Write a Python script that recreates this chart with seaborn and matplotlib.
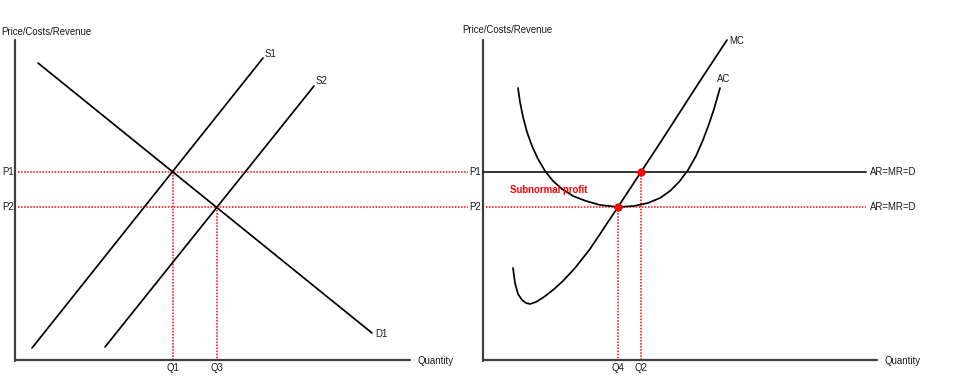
import matplotlib
matplotlib.use("Agg")
import matplotlib.pyplot as plt
import seaborn as sns
import numpy as np

sns.set_theme(style="white")
plt.rcParams['font.family'] = ['Liberation Sans', 'DejaVu Sans']

# ---- data (pixel-space coordinates) ----
# Left panel: demand and supply lines
D1_x = [38, 372]; D1_y = [63, 333]
S1_x = [32, 263]; S1_y = [348, 58]
S2_x = [105, 314]; S2_y = [347, 86]
# price levels and quantities
P_levels = {"P1": 172, "P2": 207}
Q_left = {"Q1": (173, 172), "Q3": (217, 207)}
Q_right = {"Q4": (618, 207), "Q2": (641, 172)}
# Right panel: MC and AC curves
MC_x = [513, 515, 518, 522, 526, 530, 536, 544, 553, 563, 575, 590, 604, 618, 641, 660, 680, 700, 727]
MC_y = [268, 283, 294, 300, 303, 304, 302, 297, 290, 281, 268, 249, 228, 207, 172, 143, 112, 81, 40]
AC_x = [518, 520, 523, 527, 532, 538, 545, 553, 562, 573, 586, 600, 618, 634, 648, 660, 670, 679, 688, 696, 703, 709, 714, 718, 720]
AC_y = [88, 102, 117, 132, 146, 159, 171, 181, 189, 196, 201, 205, 207, 206, 203, 198, 191, 182, 170, 156, 140, 124, 109, 95, 88]
dots_x = [641, 618]; dots_y = [172, 207]

fig = plt.figure(figsize=(9.8, 3.92), dpi=100)
ax = fig.add_axes([0, 0, 1, 1])
ax.set_xlim(0, 980)
ax.set_ylim(392, 0)
ax.axis("off")

axis_col = "#404040"
red = "#ff0000"
dot_style = dict(color=red, lw=1.1, linestyle=(0, (1, 1)))
fs = 6.9

def line(xs, ys, **kw):
    sns.lineplot(x=xs, y=ys, sort=False, estimator=None, ax=ax, **kw)

# axes of both panels
for x0, x1 in [(15, 410), (483, 877)]:
    line([x0, x0], [40, 361], color=axis_col, lw=1.6)
    line([x0, x1], [360, 360], color=axis_col, lw=1.6)

# red dotted price lines
line([18, 468], [P_levels["P1"]] * 2, **dot_style)
line([18, 468], [P_levels["P2"]] * 2, **dot_style)
line([486, 866], [P_levels["P2"]] * 2, **dot_style)
# red dotted quantity lines
tc = "#1a1a1a"
for name, (qx, py) in list(Q_left.items()) + list(Q_right.items()):
    line([qx, qx], [py, 359], **dot_style)
    ax.text(qx, 368, name, ha="center", va="center", fontsize=fs, color=tc)

# left panel curves
line(D1_x, D1_y, color="black", lw=1.25)
line(S1_x, S1_y, color="black", lw=1.25)
line(S2_x, S2_y, color="black", lw=1.25)

# right panel
line([483, 866], [P_levels["P1"]] * 2, color="#222222", lw=1.3)
line(MC_x, MC_y, color="black", lw=1.25)
line(AC_x, AC_y, color="black", lw=1.25)
sns.scatterplot(x=dots_x, y=dots_y, ax=ax, color=red, s=30, edgecolor=red, zorder=5)

# texts
ax.text(1, 32, "Price/Costs/Revenue", fontsize=fs, va="center", ha="left", color=tc)
ax.text(462, 30, "Price/Costs/Revenue", fontsize=fs, va="center", ha="left", color=tc)
for name, py in P_levels.items():
    ax.text(14, py, name, fontsize=fs, va="center", ha="right", color=tc)
    ax.text(481, py, name, fontsize=fs, va="center", ha="right", color=tc)
    ax.text(870, py, "AR=MR=D", fontsize=fs, va="center", ha="left", color=tc)
ax.text(417, 361, "Quantity", fontsize=fs, va="center", ha="left", color=tc)
ax.text(884, 361, "Quantity", fontsize=fs, va="center", ha="left", color=tc)
ax.text(375, 334, "D1", fontsize=fs, va="center", ha="left", color=tc)
ax.text(265, 54, "S1", fontsize=fs, va="center", ha="left", color=tc)
ax.text(316, 81, "S2", fontsize=fs, va="center", ha="left", color=tc)
ax.text(729, 41, "MC", fontsize=fs, va="center", ha="left", color=tc)
ax.text(717, 79, "AC", fontsize=fs, va="center", ha="left", color=tc)
ax.text(510, 190, "Subnormal profit", fontsize=fs, va="center", ha="left",
        color=red, fontweight="bold")

fig.savefig("out.png", dpi=100)
